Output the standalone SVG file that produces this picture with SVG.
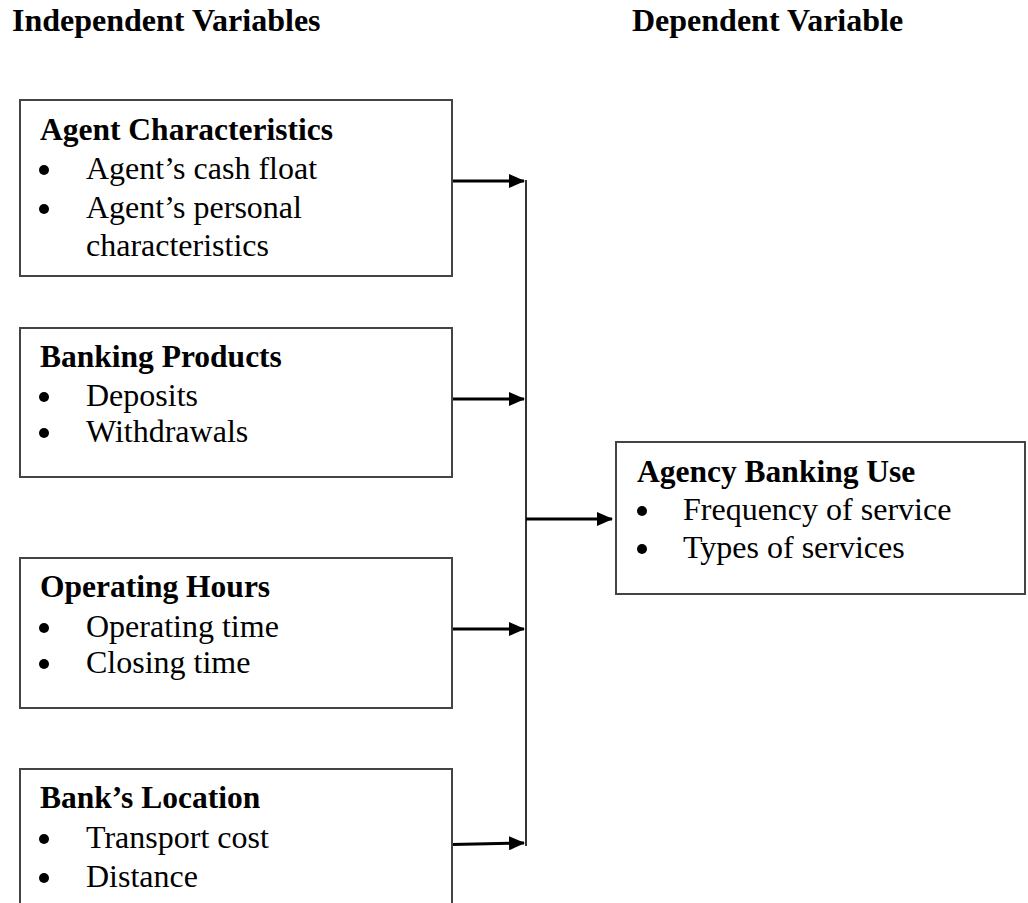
<svg xmlns="http://www.w3.org/2000/svg" width="1028" height="903" viewBox="0 0 1028 903">
<style>
.box{fill:#fff;stroke:#444;stroke-width:2}
.t{font-family:"Liberation Serif","Times New Roman",serif;fill:#000}
.b{font-weight:bold;font-size:31.5px}
.n{font-size:32px}
.h{font-weight:bold;font-size:32px}
.arr{stroke:#000;stroke-width:3;fill:none}
.vl{stroke:#333;stroke-width:2;fill:none}
</style>
<defs>
<marker id="ah" markerWidth="16" markerHeight="14" refX="15" refY="7" orient="auto" markerUnits="userSpaceOnUse">
<path d="M0,0 L16,7 L0,14 Z" fill="#000"/>
</marker>
<circle id="dot" r="5" fill="#000"/>
</defs>
<text class="t h" x="12" y="31">Independent Variables</text>
<text class="t h" x="632" y="31">Dependent Variable</text>
<g id="connectors">
<line class="vl" x1="526" y1="180" x2="526" y2="846"/>
<line class="arr" x1="452" y1="181" x2="524" y2="181" marker-end="url(#ah)"/>
<line class="arr" x1="452" y1="399" x2="524" y2="399" marker-end="url(#ah)"/>
<line class="arr" x1="452" y1="629" x2="524" y2="629" marker-end="url(#ah)"/>
<line class="arr" x1="452" y1="844.5" x2="524" y2="843" marker-end="url(#ah)"/>
<line class="arr" x1="526" y1="519" x2="612" y2="519" marker-end="url(#ah)"/>
</g>
<g id="agent">
<rect class="box" x="20" y="100" width="432" height="176"/>
<text class="t b" x="40" y="140">Agent Characteristics</text>
<use href="#dot" x="44" y="170"/>
<text class="t n" x="86" y="179">Agent’s cash float</text>
<use href="#dot" x="44" y="209"/>
<text class="t n" x="86" y="218">Agent’s personal</text>
<text class="t n" x="86" y="256">characteristics</text>
</g>
<g id="banking">
<rect class="box" x="20" y="328" width="432" height="149"/>
<text class="t b" x="40" y="367">Banking Products</text>
<use href="#dot" x="44" y="397"/>
<text class="t n" x="86" y="406">Deposits</text>
<use href="#dot" x="44" y="433"/>
<text class="t n" x="86" y="442">Withdrawals</text>
</g>
<g id="hours">
<rect class="box" x="20" y="558" width="432" height="150"/>
<text class="t b" x="40" y="597">Operating Hours</text>
<use href="#dot" x="44" y="628"/>
<text class="t n" x="86" y="637">Operating time</text>
<use href="#dot" x="44" y="664"/>
<text class="t n" x="86" y="673">Closing time</text>
</g>
<g id="location">
<rect class="box" x="20" y="769" width="432" height="150"/>
<text class="t b" x="40" y="808">Bank’s Location</text>
<use href="#dot" x="44" y="839"/>
<text class="t n" x="86" y="848">Transport cost</text>
<use href="#dot" x="44" y="878"/>
<text class="t n" x="86" y="887">Distance</text>
</g>
<g id="use">
<rect class="box" x="616" y="442" width="409" height="152"/>
<text class="t b" x="637" y="482">Agency Banking Use</text>
<use href="#dot" x="642" y="511"/>
<text class="t n" x="683" y="520">Frequency of service</text>
<use href="#dot" x="642" y="549"/>
<text class="t n" x="683" y="558">Types of services</text>
</g>
</svg>
